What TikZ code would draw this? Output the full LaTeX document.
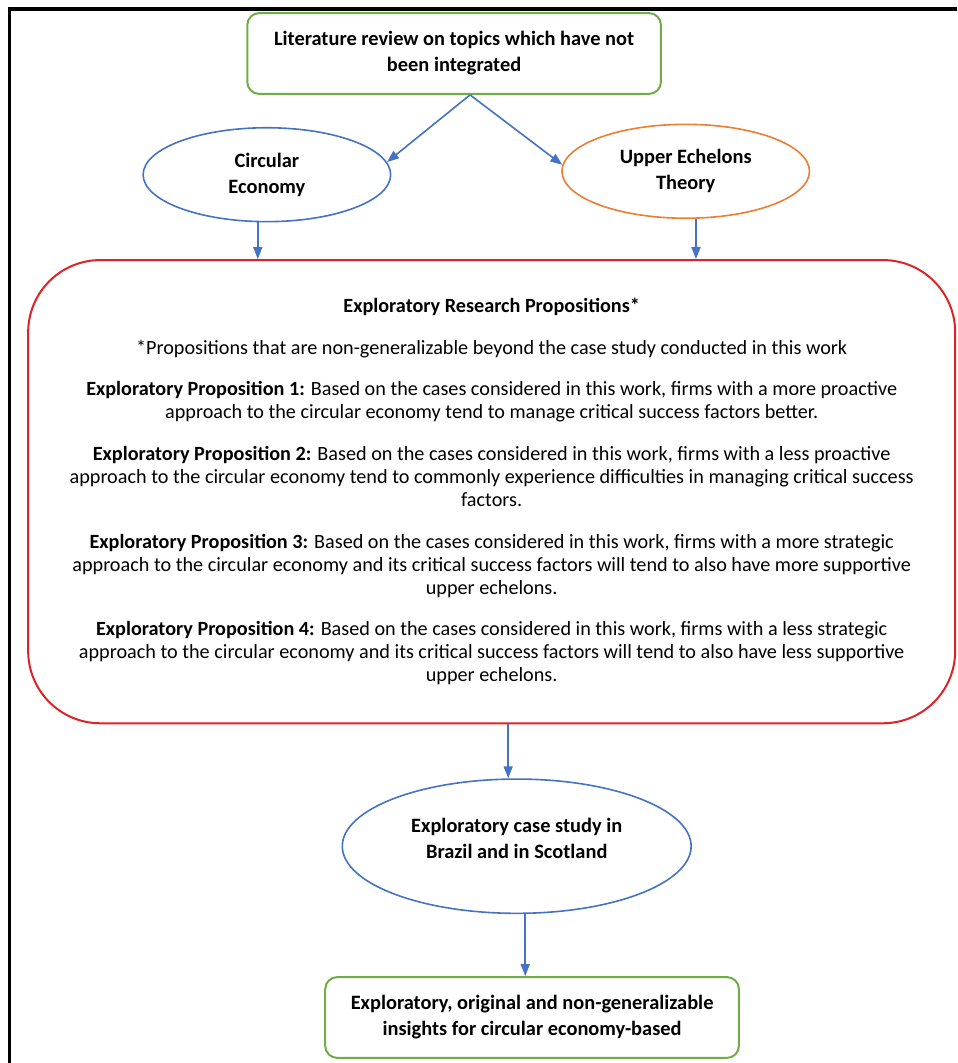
\documentclass[tikz,border=0pt]{standalone}
\usepackage{fontspec}
\setmainfont{Carlito}
\usepackage{tikz}
\usetikzlibrary{shapes.geometric, calc, arrows.meta}
\definecolor{boxgreen}{RGB}{112,173,71}
\definecolor{ovalblue}{RGB}{68,114,196}
\definecolor{ovalorange}{RGB}{237,125,49}
\definecolor{propred}{RGB}{222,35,40}

\begin{document}
\begin{tikzpicture}[node distance=1cm, auto]

\tikzstyle{startstop} = [rectangle, rounded corners=6pt, minimum width=7.27cm, minimum height=1.42cm, align=center, draw=boxgreen, line width=1pt, font=\fontsize{10.2pt}{13pt}\selectfont\bfseries]
\tikzstyle{topic} = [ellipse, minimum width=4.35cm, minimum height=1.65cm, inner sep=0pt, align=center, line width=0.8pt, font=\fontsize{10.2pt}{13pt}\selectfont\bfseries]
\tikzstyle{propbox} = [rectangle, rounded corners=1.27cm, minimum width=16.29cm, minimum height=8.14cm, align=center, draw=propred, line width=1pt, font=\fontsize{10.1pt}{11.5pt}\selectfont]
\tikzstyle{arrow} = [draw=ovalblue, line width=0.8pt, ->, >={Triangle[length=6pt,width=4.5pt]}]
\tikzstyle{frame} = [line width=1.75pt, draw=black]

\useasboundingbox (0,0) rectangle (16.82,-18.68);
\draw [frame] (16.82,-0.16) -- (0.17,-0.16) -- (0.17,-18.68);

\node (lit) [startstop] at (7.98,-0.94) {Literature review on topics which have not\\been integrated};
\node (ce) [topic, draw=ovalblue, below of=lit, xshift=-3.29cm, yshift=-1.13cm] {Circular\\Economy};
\node (uet) [topic, draw=ovalorange, below of=lit, xshift=4.07cm, yshift=-1.07cm] {Upper Echelons\\Theory};
\node (prop) [propbox, below of=lit, xshift=0.66cm, yshift=-6.70cm] {%
\textbf{Exploratory Research Propositions*}\\[9.3pt]
*Propositions that are non-generalizable beyond the case study conducted in this work\\[9.3pt]
\textbf{Exploratory Proposition 1:} Based on the cases considered in this work, firms with a more proactive\\
approach to the circular economy tend to manage critical success factors better.\\[9.3pt]
\textbf{Exploratory Proposition 2:} Based on the cases considered in this work, firms with a less proactive\\
approach to the circular economy tend to commonly experience difficulties in managing critical success\\
factors.\\[9.3pt]
\textbf{Exploratory Proposition 3:} Based on the cases considered in this work, firms with a more strategic\\
approach to the circular economy and its critical success factors will tend to also have more supportive\\
upper echelons.\\[9.3pt]
\textbf{Exploratory Proposition 4:} Based on the cases considered in this work, firms with a less strategic\\
approach to the circular economy and its critical success factors will tend to also have less supportive\\
upper echelons.};
\node (study) [topic, draw=ovalblue, below of=prop, xshift=0.44cm, yshift=-5.23cm, minimum width=6.13cm, minimum height=2.36cm] {Exploratory case study in\\Brazil and in Scotland\\[-5pt]\mbox{}};
\node (insights) [startstop, below of=study, xshift=0.27cm, yshift=-2.01cm] {Exploratory, original and non-generalizable\\insights for circular economy-based};

\draw [arrow] ($(lit.south)+(0.28,0)$) -- (ce.6);
\draw [arrow] ($(lit.south)+(0.28,0)$) -- (uet.177);
\draw [arrow] ($(ce.south)+(-0.16,0)$) -- ($(ce.south |- prop.north)+(-0.16,0)$);
\draw [arrow] ($(uet.south)+(0.18,0)$) -- ($(uet.south |- prop.north)+(0.18,0)$);
\draw [arrow] ($(study.north |- prop.south)+(-0.15,0)$) -- ($(study.north)+(-0.15,0)$);
\draw [arrow] ($(study.south)+(0.15,0)$) -- ($(study.south |- insights.north)+(0.15,0)$);
\end{tikzpicture}
\end{document}
